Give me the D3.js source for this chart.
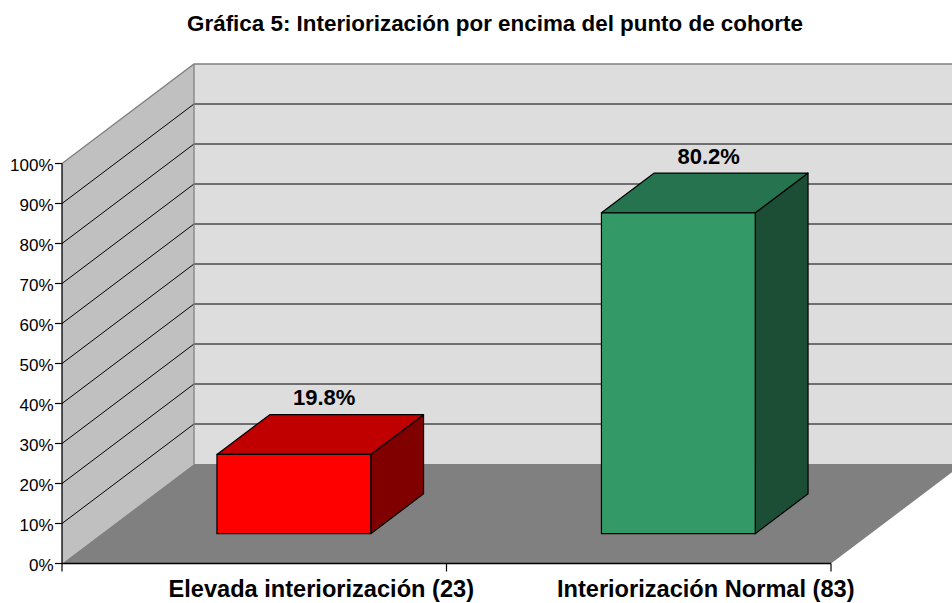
<!DOCTYPE html>
<html>
<head>
<meta charset="utf-8">
<script src="https://cdn.jsdelivr.net/npm/d3@7"></script>
<style>
  html, body { margin: 0; padding: 0; background: #ffffff; }
  svg { display: block; }
  text { font-family: "Liberation Sans", Arial, Helvetica, sans-serif; }
</style>
</head>
<body>
<svg id="chart" width="952" height="603"></svg>
<script>
// ---- Data ----
const title = "Gráfica 5: Interiorización por encima del punto de cohorte";
const categories = ["Elevada interiorización (23)", "Interiorización Normal (83)"];
const values = [0.198, 0.802];
const valueLabels = ["19.8%", "80.2%"];
const tickValues = [0, 0.1, 0.2, 0.3, 0.4, 0.5, 0.6, 0.7, 0.8, 0.9, 1.0];
const frontColors = ["#ff0000", "#339966"];
const topColors = ["#c00000", "#267350"];
const sideColors = ["#800000", "#1c4d35"];

// ---- Layout ----
const W = 952, H = 603;
const svg = d3.select("#chart");
const x0 = 62, x1 = 831;
const yBottom = 563.5, yTop = 163.5;
const DX = 132, DY = -99.5;        // full depth offset (oblique projection)
const zFront = 0.3, zBack = 0.7;   // bar depth span

const x = d3.scaleBand().domain(categories).range([x0, x1])
  .paddingInner(0.6).paddingOuter(0.3);
const y = d3.scaleLinear().domain([0, 1]).range([yBottom, yTop]);
const P = (px, py, z) => [px + z * DX, py + z * DY];
const poly = pts => "M" + pts.map(p => p.join(",")).join("L") + "Z";
const step = x.step();

// Side wall (left)
svg.append("path")
  .attr("d", poly([P(x0, y(0), 0), P(x0, y(0), 1), P(x0, y(1), 1), P(x0, y(1), 0)]))
  .attr("fill", "#c0c0c0");
// Back wall
svg.append("path")
  .attr("d", poly([P(x0, y(0), 1), P(x1 + 40, y(0), 1), P(x1 + 40, y(1), 1), P(x0, y(1), 1)]))
  .attr("fill", "#dddddd");
// Floor
svg.append("path")
  .attr("d", poly([P(x0, y(0), 0), P(x1, y(0), 0), P(x1, y(0), 1), P(x0, y(0), 1)]))
  .attr("fill", "#808080");

// Gridlines (side + back)
const gridVals = tickValues.filter(v => v > 0 && v < 1);
gridVals.forEach(v => {
  const a = P(x0, y(v), 0), b = P(x0, y(v), 1), c = P(x1 + 40, y(v), 1);
  svg.append("path").attr("d", `M${a}L${b}L${c}`)
    .attr("fill", "none").attr("stroke", "#000").attr("stroke-width", 1);
});
// Wall edges (grey)
{
  const a = P(x0, y(1), 0), b = P(x0, y(1), 1), c = P(x1 + 40, y(1), 1), d = P(x0, y(0), 1);
  svg.append("path").attr("d", `M${a}L${b}L${c}`)
    .attr("fill", "none").attr("stroke", "#808080").attr("stroke-width", 1.3);
  svg.append("path").attr("d", `M${b}L${d}`)
    .attr("fill", "none").attr("stroke", "#808080").attr("stroke-width", 1.3);
}

// Y axis
svg.append("line").attr("x1", x0).attr("x2", x0).attr("y1", y(1)).attr("y2", y(0))
  .attr("stroke", "#000").attr("stroke-width", 1.3);
const yt = svg.append("g");
tickValues.forEach(v => {
  yt.append("line").attr("x1", x0 - 7).attr("x2", x0).attr("y1", y(v)).attr("y2", y(v))
    .attr("stroke", "#000").attr("stroke-width", 1.2);
  yt.append("text").attr("x", x0 - 8.5).attr("y", y(v) + 7.8)
    .attr("text-anchor", "end").attr("font-size", 17).attr("fill", "#000")
    .text(d3.format(".0%")(v));
});

// X axis
svg.append("line").attr("x1", x0).attr("x2", x1).attr("y1", y(0)).attr("y2", y(0))
  .attr("stroke", "#000").attr("stroke-width", 1.6);
const xTicks = [x0].concat(categories.map(c => x(c) - x.paddingOuter() * step + step));
xTicks.forEach(t => {
  svg.append("line").attr("x1", t).attr("x2", t).attr("y1", y(0)).attr("y2", y(0) + 8)
    .attr("stroke", "#000").attr("stroke-width", 1.2);
});

// Bars
categories.forEach((c, i) => {
  const bx0 = x(c), bx1 = x(c) + x.bandwidth();
  const yv = y(values[i]), y0 = y(0);
  const g = svg.append("g").attr("stroke", "#000").attr("stroke-width", 1.2)
    .attr("stroke-linejoin", "round");
  // side
  g.append("path").attr("fill", sideColors[i])
    .attr("d", poly([P(bx1, y0, zFront), P(bx1, y0, zBack), P(bx1, yv, zBack), P(bx1, yv, zFront)]));
  // top
  g.append("path").attr("fill", topColors[i])
    .attr("d", poly([P(bx0, yv, zFront), P(bx1, yv, zFront), P(bx1, yv, zBack), P(bx0, yv, zBack)]));
  // front
  g.append("path").attr("fill", frontColors[i])
    .attr("d", poly([P(bx0, y0, zFront), P(bx1, y0, zFront), P(bx1, yv, zFront), P(bx0, yv, zFront)]));
  // value label
  const cx = x(c) + x.bandwidth() / 2;
  const lp = P(cx, yv, 0.53);
  svg.append("text").attr("x", lp[0]).attr("y", P(cx, yv, zBack)[1] - 9.5)
    .attr("text-anchor", "middle").attr("font-size", 22).attr("font-weight", "bold")
    .attr("fill", "#000").text(valueLabels[i]);
  // category label
  svg.append("text").attr("x", P(cx, 0, 0.5)[0] + 1).attr("y", 597)
    .attr("text-anchor", "middle").attr("font-size", 23.6).attr("font-weight", "bold")
    .attr("fill", "#000").text(c);
});

// Title
svg.append("text").attr("x", 495).attr("y", 31)
  .attr("text-anchor", "middle").attr("font-size", 22.4).attr("font-weight", "bold")
  .attr("fill", "#000").text(title);
</script>
</body>
</html>
